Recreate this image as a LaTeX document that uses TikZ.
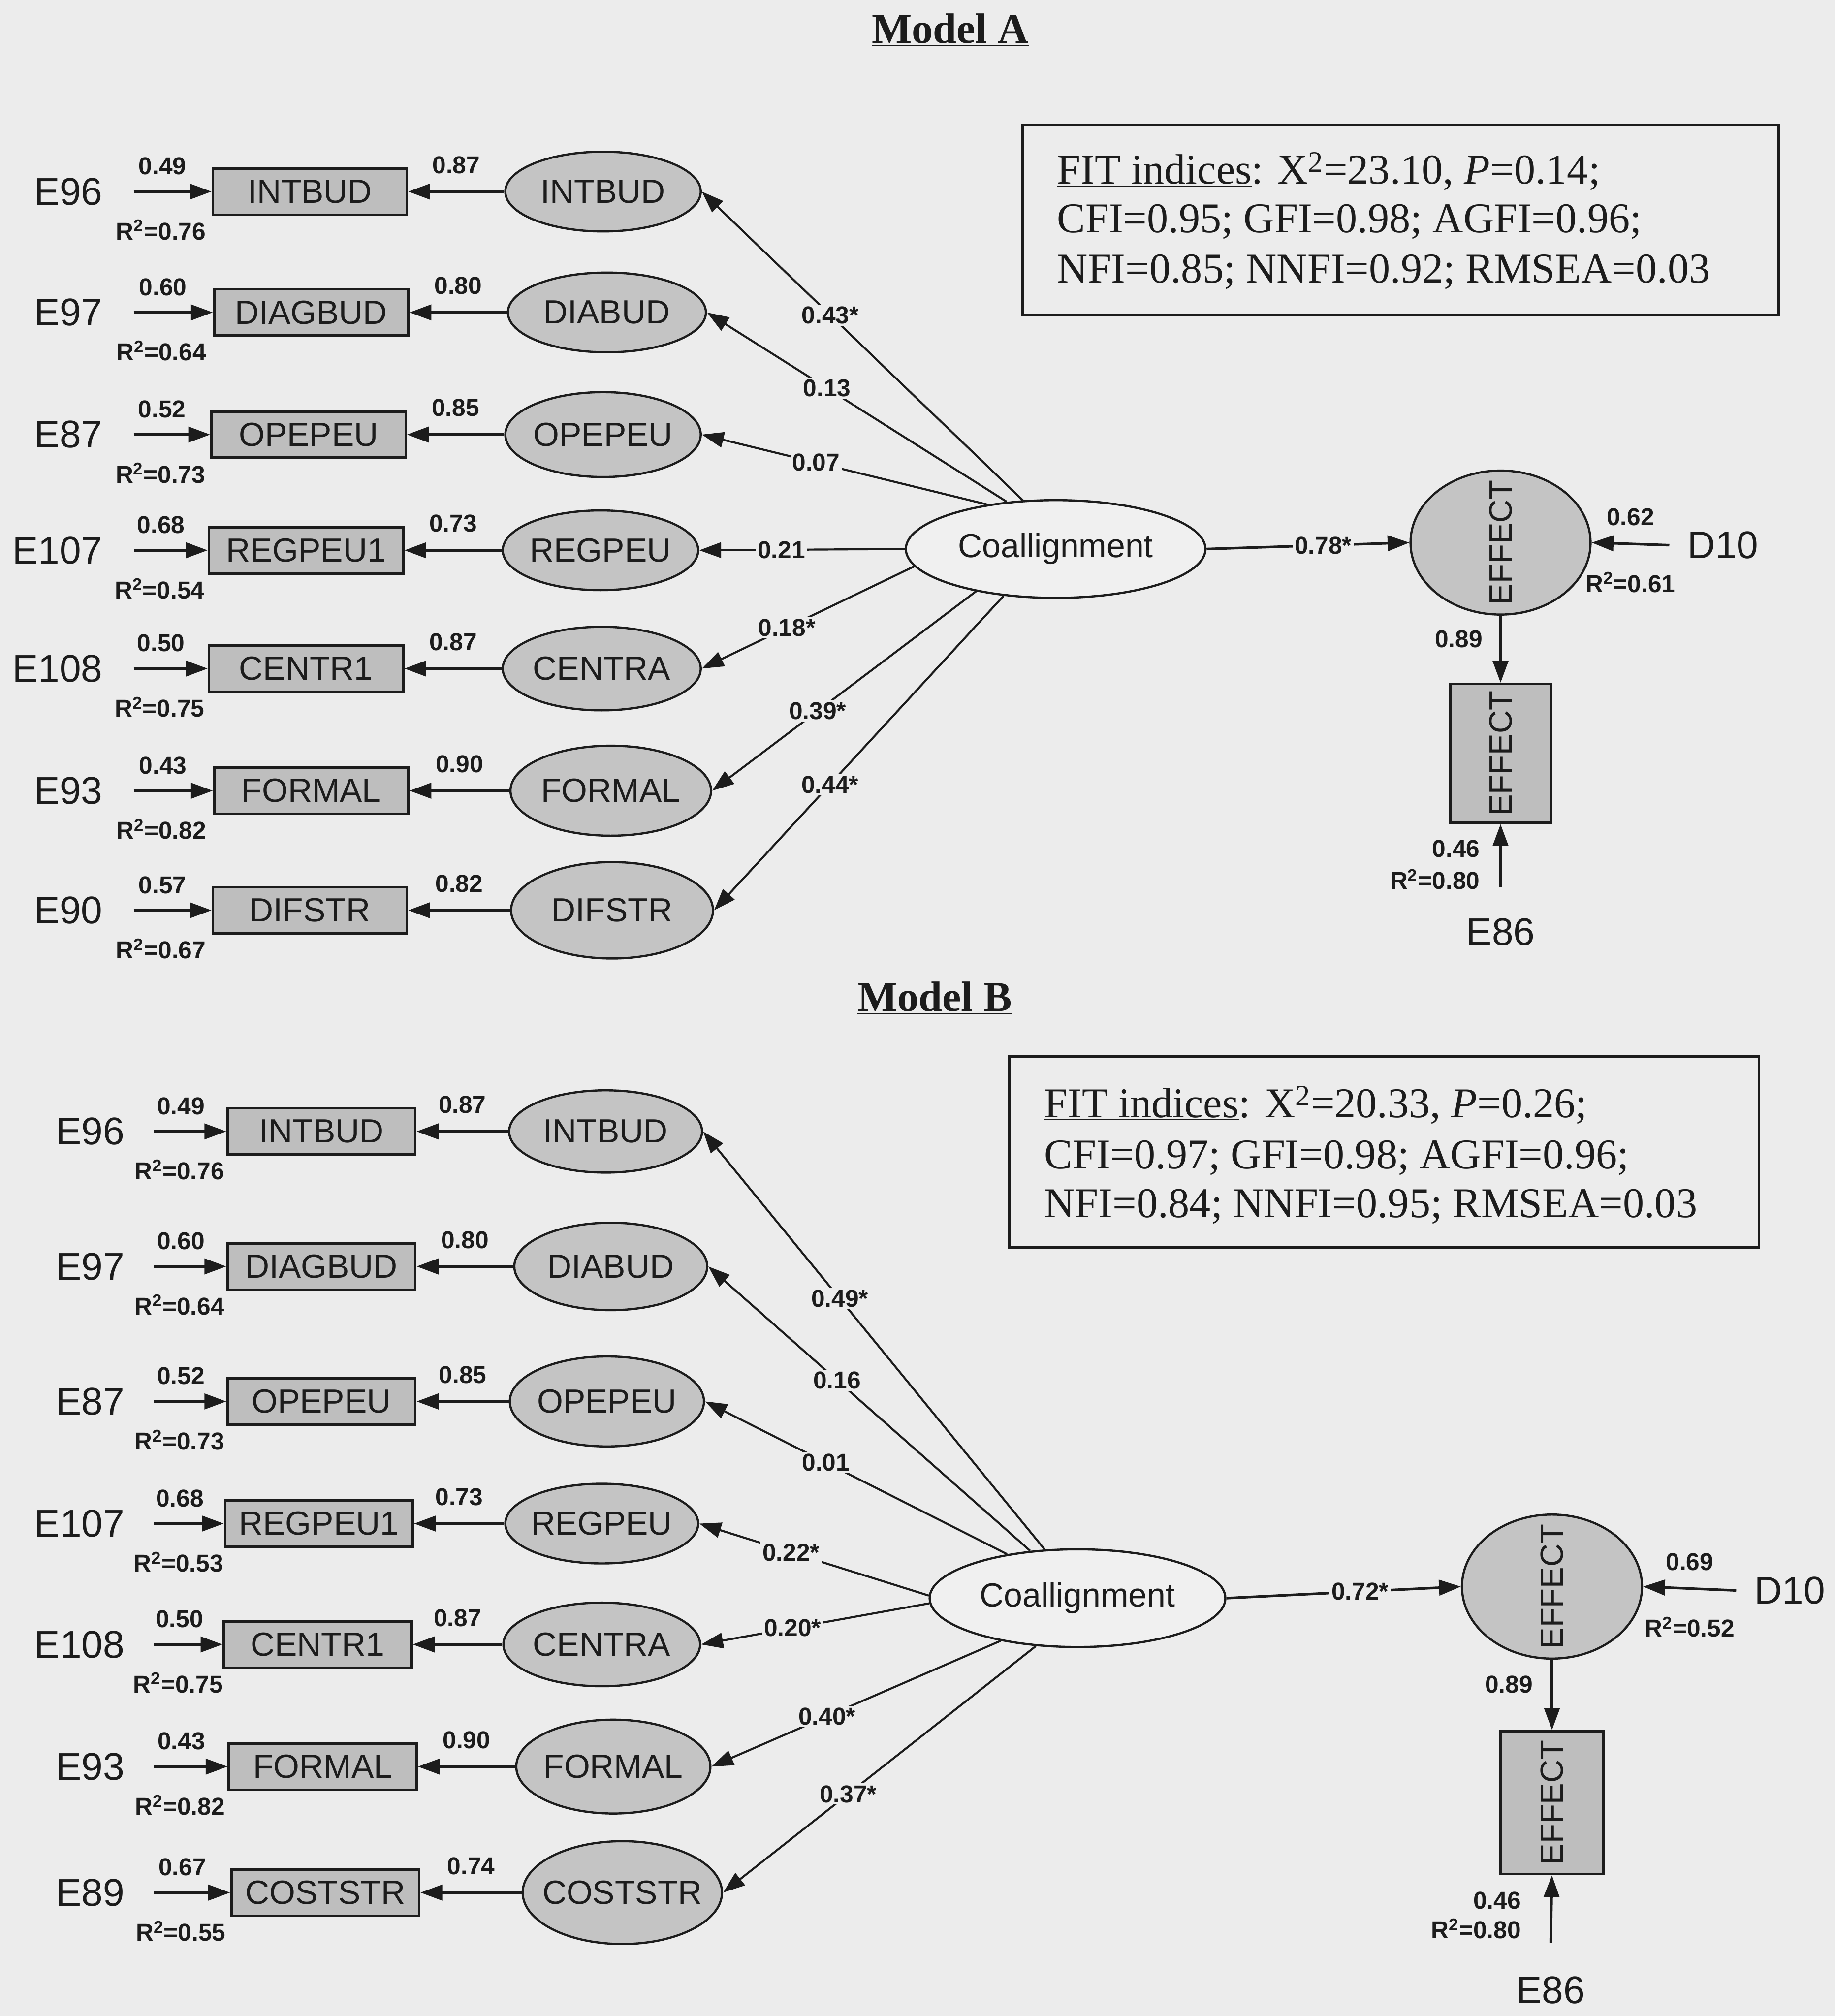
\documentclass[tikz,border=0pt]{standalone}
\usepackage{fontspec}
\setmainfont{Liberation Serif}
\newfontfamily\lsans{Liberation Sans}
\usetikzlibrary{arrows.meta,shapes.geometric,calc}
\definecolor{bgc}{RGB}{236,236,236}
\definecolor{boxc}{RGB}{190,190,190}
\definecolor{latc}{RGB}{196,196,196}
\definecolor{coc}{RGB}{240,240,240}
\definecolor{inkc}{RGB}{28,28,28}
\tikzset{
  arr/.style={draw=inkc, line width=2pt, -{Triangle[length=17pt,width=12pt]}},
  arrc/.style={draw=inkc, line width=1.6pt, -{Triangle[length=17pt,width=12pt]}},
  obs/.style={rectangle, draw=inkc, line width=2pt, fill=boxc, inner sep=0pt, minimum width=151pt, minimum height=36pt, font=\lsans\fontsize{26}{28}\selectfont, text=inkc},
  lat/.style={ellipse, draw=inkc, line width=1.7pt, fill=latc, inner sep=0pt},
  lattext/.style={font=\lsans\fontsize{26}{28}\selectfont, text=inkc},
  coal/.style={ellipse, draw=inkc, line width=1.7pt, fill=coc, inner sep=0pt, minimum height=76pt},
  etext/.style={font=\lsans\fontsize{30}{32}\selectfont, text=inkc, inner sep=2pt},
  num/.style={font=\lsans\bfseries\fontsize{19}{21}\selectfont, text=inkc, inner sep=1pt},
  coef/.style={num, fill=bgc, inner sep=1.5pt},
  fitbox/.style={rectangle, draw=inkc, line width=2.2pt},
  fittxt/.style={anchor=base west, inner sep=0pt, font=\fontsize{33}{38}\selectfont, text=inkc},
  mtitle/.style={font=\bfseries\fontsize{33}{36}\selectfont, text=inkc, inner sep=0pt, anchor=base},
}
\begin{document}
\begin{tikzpicture}[x=1pt,y=-1pt]
\useasboundingbox (0,0) rectangle (1427,1568);
\fill[bgc] (0,0) rectangle (1427,1568);

% ---------------- Model A ----------------
\node[mtitle] (tA) at (739,33.5) {\underline{Model A}};

\node[fitbox, minimum width=588pt, minimum height=148pt] (fitA) at (1089,171) {};
\node[fittxt] (fitA1) at (822,143) {\underline{FIT indices}: X\textsuperscript{2}=23.10, \textit{P}=0.14;};
\node[fittxt] (fitA2) at (822,181) {CFI=0.95; GFI=0.98; AGFI=0.96;};
\node[fittxt] (fitA3) at (822,220) {NFI=0.85; NNFI=0.92; RMSEA=0.03};

\node[coal, minimum width=233pt, label={[lattext]center:Coallignment}] (coA) at (821,427) {};

\foreach \i/\y/\bx/\lx/\lh/\lw/\en/\ob/\la/\er/\rr/\ld/\ang/\cf in {
 1/149/241/469/62pt/152pt/E96/INTBUD/INTBUD/0.49/0.76/0.87/124/0.43*,
 2/243/242/472/62pt/154pt/E97/DIAGBUD/DIABUD/0.60/0.64/0.80/136/0.13,
 3/338/240/469/66pt/152pt/E87/OPEPEU/OPEPEU/0.52/0.73/0.85/147/0.07,
 4/428/238/467/62pt/152pt/E107/REGPEU1/REGPEU/0.68/0.54/0.73/180/0.21,
 5/520/238/468/65pt/154pt/E108/CENTR1/CENTRA/0.50/0.75/0.87/187/0.18*,
 6/615/242/475/70pt/156pt/E93/FORMAL/FORMAL/0.43/0.82/0.90/208/0.39*,
 7/708/241/476/75pt/157pt/E90/DIFSTR/DIFSTR/0.57/0.67/0.82/222/0.44*}
{
 \node[obs] (bA\i) at (\bx,\y) {\ob};
 \node[lat, minimum width=\lw, minimum height=\lh, label={[lattext]center:\la}] (lA\i) at (\lx,\y) {};
 \node[etext, anchor=east] (eA\i) at (82,\y) {\en};
 \draw[arr] ([xshift=22pt]eA\i.east) -- node[num, above=11pt, pos=0.37] (erA\i) {\er}
     node[num, below=20pt, pos=0.35] (rA\i) {R\textsuperscript{2}=\rr} (bA\i.west);
 \draw[arr] (lA\i.west) -- node[num, above=12pt] (ldA\i) {\ld} (bA\i.east);
 \draw[arrc] (coA.\ang) -- node[coef, pos=0.6] (cA\i) {\cf} (lA\i.east);
}

\node[lat, minimum width=140pt, minimum height=112pt, label={[lattext, font=\lsans\fontsize{25}{27}\selectfont, rotate=90]center:EFFECT}] (effA) at (1167,422) {};
\node[obs, minimum width=78pt, minimum height=108pt, label={[lattext, font=\lsans\fontsize{25}{27}\selectfont, rotate=90]center:EFFECT}] (ebA) at (1167,586) {};
\draw[arr] (coA.east) -- node[coef, pos=0.575] (cAe) {0.78*} (effA.west);
\draw[arr] (effA.south) -- node[num, left=12pt, pos=0.35] (ldAe) {0.89} (ebA.north);
\node[etext] (d10A) at (1340,424) {D10};
\draw[arr] ([xshift=-12pt]d10A.west) -- node[num, above=12pt] (erAd) {0.62}
    node[num, below=20pt] (rAd) {R\textsuperscript{2}=0.61} (effA.east);
\node[etext] (e86A) at (1167,725) {E86};
\draw[arr] ([yshift=22pt]e86A.north) -- (ebA.south);
\node[num, anchor=east] (erA86) at (1152,660) {0.46};
\node[num, anchor=east] (rA86) at (1152,684) {R\textsuperscript{2}=0.80};

% ---------------- Model B ----------------
\node[mtitle] (tB) at (727,786.5) {\underline{Model B}};

\node[fitbox, minimum width=583pt, minimum height=148pt] (fitB) at (1076.5,896) {};
\node[fittxt] (fitB1) at (812,869) {\underline{FIT indices}: X\textsuperscript{2}=20.33, \textit{P}=0.26;};
\node[fittxt] (fitB2) at (812,909) {CFI=0.97; GFI=0.98; AGFI=0.96;};
\node[fittxt] (fitB3) at (812,947) {NFI=0.84; NNFI=0.95; RMSEA=0.03};

\node[coal, minimum width=230pt, label={[lattext]center:Coallignment}] (coB) at (838,1243) {};

\foreach \i/\y/\bx/\lx/\lh/\lw/\en/\ob/\la/\er/\rr/\ld/\ang/\cf in {
 1/880/250/471/64pt/150pt/E96/INTBUD/INTBUD/0.49/0.76/0.87/124/0.49*,
 2/985/250/475/68pt/150pt/E97/DIAGBUD/DIABUD/0.60/0.64/0.80/135/0.16,
 3/1090/250/472/70pt/151pt/E87/OPEPEU/OPEPEU/0.52/0.73/0.85/148/0.01,
 4/1185/248/468/62pt/150pt/E107/REGPEU1/REGPEU/0.68/0.53/0.73/179/0.22*,
 5/1279/247/468/65pt/153pt/E108/CENTR1/CENTRA/0.50/0.75/0.87/182/0.20*,
 6/1374/251/477/73pt/151pt/E93/FORMAL/FORMAL/0.43/0.82/0.90/209/0.40*,
 7/1472/253/484/80pt/155pt/E89/COSTSTR/COSTSTR/0.67/0.55/0.74/229/0.37*}
{
 \node[obs, minimum width=146pt] (bB\i) at (\bx,\y) {\ob};
 \node[lat, minimum width=\lw, minimum height=\lh, label={[lattext]center:\la}] (lB\i) at (\lx,\y) {};
 \node[etext, anchor=east] (eB\i) at (99,\y) {\en};
 \draw[arr] ([xshift=21pt]eB\i.east) -- node[num, above=11pt, pos=0.37] (erB\i) {\er}
     node[num, below=20pt, pos=0.35] (rB\i) {R\textsuperscript{2}=\rr} (bB\i.west);
 \draw[arr] (lB\i.west) -- node[num, above=12pt] (ldB\i) {\ld} (bB\i.east);
 \draw[arrc] (coB.\ang) -- node[coef, pos=0.6] (cB\i) {\cf} (lB\i.east);
}

\node[lat, minimum width=140pt, minimum height=112pt, label={[lattext, font=\lsans\fontsize{25}{27}\selectfont, rotate=90]center:EFFECT}] (effB) at (1207,1234) {};
\node[obs, minimum width=80pt, minimum height=111pt, label={[lattext, font=\lsans\fontsize{25}{27}\selectfont, rotate=90]center:EFFECT}] (ebB) at (1207,1402) {};
\draw[arr] (coB.east) -- node[coef, pos=0.57] (cBe) {0.72*} (effB.west);
\draw[arr] (effB.south) -- node[num, left=13pt, pos=0.35] (ldBe) {0.89} (ebB.north);
\node[etext] (d10B) at (1392,1237) {D10};
\draw[arr] ([xshift=-12pt]d10B.west) -- node[num, above=12pt] (erBd) {0.69}
    node[num, below=20pt] (rBd) {R\textsuperscript{2}=0.52} (effB.east);
\node[etext] (e86B) at (1206,1548) {E86};
\draw[arr] ([yshift=24pt]e86B.north) -- (ebB.south);
\node[num, anchor=east] (erB86) at (1184,1478) {0.46};
\node[num, anchor=east] (rB86) at (1184,1500) {R\textsuperscript{2}=0.80};
\end{tikzpicture}
\end{document}
